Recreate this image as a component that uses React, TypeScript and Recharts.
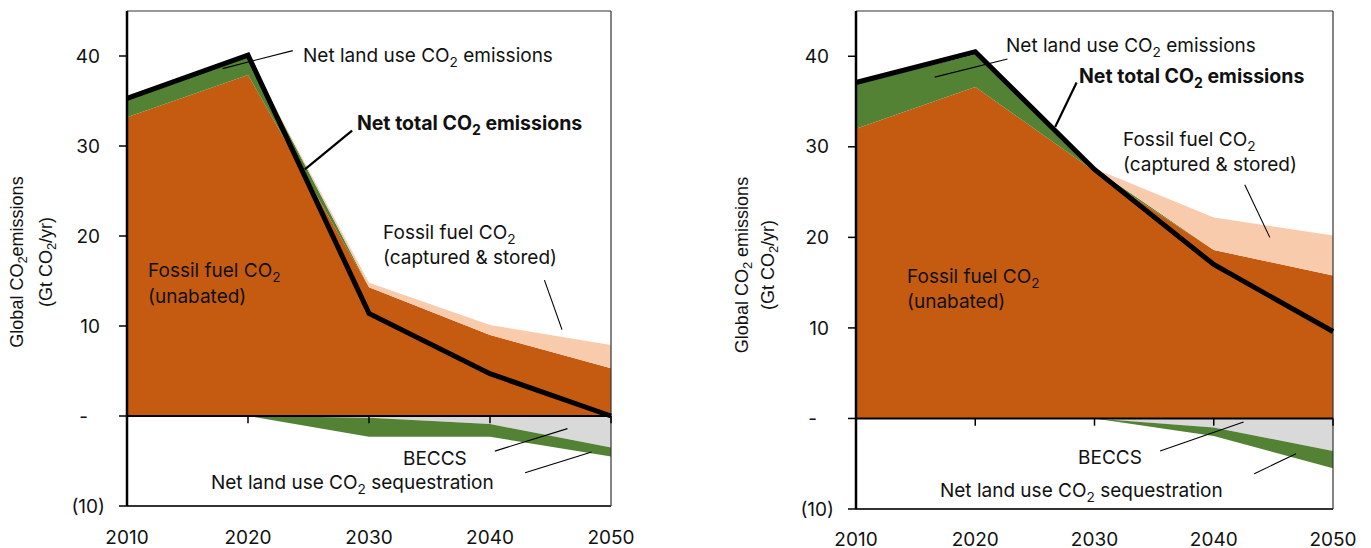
import React from 'react';
import { ComposedChart, Area, Line, XAxis, YAxis, ReferenceLine, ReferenceDot } from 'recharts';

// shared axes
const years = [2010, 2020, 2030, 2040, 2050];
const yTicks = [-10, 0, 10, 20, 30, 40];

// left panel (Gt CO2/yr)
const leftUnabated = [33.2, 37.9, 14.3, 9.0, 5.3];
const leftLandEmit = [2.1, 2.1, 0, 0, 0];
const leftCaptured = [0, 0, 0.5, 1.1, 2.6];
const leftBeccs = [0, 0, -0.2, -0.9, -3.5];
const leftLandSeq = [0, 0, -2.1, -1.4, -1.0];
const leftNet = [35.3, 40.1, 11.4, 4.7, 0];

// right panel (Gt CO2/yr)
const rightUnabated = [32.0, 36.6, 27.3, 18.6, 15.8];
const rightLandEmit = [4.9, 3.6, 0.3, 0, 0];
const rightCaptured = [0, 0, 0, 3.6, 4.4];
const rightBeccs = [0, 0, 0, -1.0, -3.6];
const rightLandSeq = [0, 0, 0, -0.95, -1.9];
const rightNet = [37.1, 40.5, 27.5, 17.0, 9.6];

const ORANGE = '#C55A11';
const GREEN = '#548235';
const PEACH = '#F8CBAD';
const GREY = '#D9D9D9';
const FONT = 'Inter, sans-serif';
const TITLE_FONT = '"Liberation Sans", Arial, sans-serif';

// text with "|" around subscripts, e.g. "CO|2| emissions"
const Rich = ({ text, size }: { text: string; size: number }) => {
  const drop = Math.round(size * 0.25);
  return (
    <>
      {text.split('|').map((part, j) =>
        j % 2 === 1 ? (
          <tspan key={j} dy={drop} fontSize={size * 0.72}>{part}</tspan>
        ) : (
          <tspan key={j} dy={j ? -drop : 0}>{part}</tspan>
        )
      )}
    </>
  );
};

const Note = ({ viewBox, lines, bold, gap = 26, size = 19 }: any) => {
  const { x, y } = viewBox;
  return (
    <g>
      {lines.map((line: string, i: number) => (
        <text key={i} x={x} y={y + i * gap} fontFamily={FONT} fontSize={size}
          fontWeight={bold ? 700 : 400} fill="#111">
          <Rich text={line} size={size} />
        </text>
      ))}
    </g>
  );
};

const YTick = ({ x, y, payload }: any) => {
  const v = payload.value;
  const label = v === 0 ? '-' : v < 0 ? `(${-v})` : String(v);
  const shift = v === 0 ? -12 : v < 0 ? 5 : 0;
  return (
    <text x={x + shift} y={y} dy="0.35em" textAnchor="end" fontFamily={FONT} fontSize={19} fill="#111">
      {label}
    </text>
  );
};

const YTitle = ({ lines, xs, cy }: any) => (
  <g>
    {lines.map((line: string, i: number) => (
      <text key={i} x={xs[i]} y={cy} transform={`rotate(-90 ${xs[i]} ${cy})`} textAnchor="middle"
        dominantBaseline="central" fontFamily={TITLE_FONT} fontSize={18} fill="#111">
        <Rich text={line} size={18} />
      </text>
    ))}
  </g>
);

type NoteSpec = { x: number; y: number; lines: string[]; bold?: boolean; gap?: number; size?: number };
type Leader = { from: [number, number]; to: [number, number]; w?: number };

const leftNotes: NoteSpec[] = [
  { x: 2024.55, y: 39.33, lines: ['Net land use CO|2| emissions'] },
  { x: 2029.0, y: 31.78, lines: ['Net total CO|2| emissions'], bold: true, size: 19.5 },
  { x: 2031.16, y: 19.67, lines: ['Fossil fuel CO|2|', '(captured & stored)'], gap: 25 },
  { x: 2011.74, y: 15.44, lines: ['Fossil fuel CO|2|', '(unabated)'] },
  { x: 2032.81, y: -5.44, lines: ['BECCS'] },
  { x: 2016.94, y: -8.11, lines: ['Net land use CO|2| sequestration'] },
];
const leftLeaders: Leader[] = [
  { from: [2023.7, 40.6], to: [2017.9, 38.6] },
  { from: [2028.6, 31.7], to: [2024.7, 27.4], w: 2.2 },
  { from: [2044.5, 15.1], to: [2045.95, 9.6] },
  { from: [2040.4, -3.9], to: [2046.4, -1.4] },
  { from: [2042.9, -6.3], to: [2048.4, -4.0] },
];

const rightNotes: NoteSpec[] = [
  { x: 2022.58, y: 40.42, lines: ['Net land use CO|2| emissions'] },
  { x: 2028.7, y: 37.0, lines: ['Net total CO|2| emissions'], bold: true, size: 19.5 },
  { x: 2032.39, y: 30.04, lines: ['Fossil fuel CO|2|', '(captured & stored)'], gap: 25 },
  { x: 2014.28, y: 14.91, lines: ['Fossil fuel CO|2|', '(unabated)'], gap: 25 },
  { x: 2028.62, y: -5.08, lines: ['BECCS'] },
  { x: 2017.04, y: -8.72, lines: ['Net land use CO|2| sequestration'] },
];
const rightLeaders: Leader[] = [
  { from: [2022.7, 39.7], to: [2016.6, 37.7] },
  { from: [2028.5, 37.1], to: [2026.7, 32.2], w: 2.2 },
  { from: [2042.6, 25.8], to: [2044.7, 20.0] },
  { from: [2035.5, -3.6], to: [2042.5, -0.4] },
  { from: [2043.4, -6.1], to: [2046.9, -3.9] },
];

const Panel = ({ cfg }: any) => {
  const data = years.map((year, i) => ({
    year,
    unabated: cfg.unabated[i],
    landEmit: cfg.landEmit[i],
    captured: cfg.captured[i],
    beccs: cfg.beccs[i],
    landSeq: cfg.landSeq[i],
    net: cfg.net[i],
  }));
  return (
    <div style={{ position: 'absolute', left: cfg.left, top: 0 }}>
      <ComposedChart width={cfg.width} height={548} data={data}
        margin={{ top: 11, right: cfg.right, bottom: cfg.bottom, left: 0 }}>
        <XAxis type="number" dataKey="year" domain={[2010, 2050]} ticks={years} height={30}
          tickSize={0} tickLine={false} tickMargin={cfg.xTickMargin}
          axisLine={{ stroke: '#333', strokeWidth: 2 }}
          tick={{ fontFamily: FONT, fontSize: 19, fill: '#111' }} />
        <YAxis type="number" domain={[-10, 45]} ticks={yTicks} width={cfg.yw} allowDataOverflow
          tickSize={8} tickMargin={19} axisLine={{ stroke: '#000', strokeWidth: 2.5 }}
          tickLine={{ stroke: '#000', strokeWidth: 1.5 }} tick={<YTick />}
          label={() => <YTitle lines={cfg.title} xs={cfg.titleX} cy={cfg.titleY} />} />
        <ReferenceLine y={45} stroke="#333" strokeWidth={1.2} />
        <ReferenceLine x={2050} stroke="#333" strokeWidth={1.2} />
        <Area type="linear" stackId="pos" dataKey="unabated" fill={ORANGE} fillOpacity={1} stroke="none" isAnimationActive={false} />
        <Area type="linear" stackId="pos" dataKey="landEmit" fill={GREEN} fillOpacity={1} stroke="none" isAnimationActive={false} />
        <Area type="linear" stackId="pos" dataKey="captured" fill={PEACH} fillOpacity={1} stroke="none" isAnimationActive={false} />
        <Area type="linear" stackId="neg" dataKey="beccs" fill={GREY} fillOpacity={1} stroke="none" isAnimationActive={false} />
        <Area type="linear" stackId="neg" dataKey="landSeq" fill={GREEN} fillOpacity={1} stroke="none" isAnimationActive={false} />
        <ReferenceLine y={0} stroke="#000" strokeWidth={2} />
        {years.slice(1).map((yr) => (
          <ReferenceLine key={yr} segment={[{ x: yr, y: 0 }, { x: yr, y: -0.8 }]} stroke="#000" strokeWidth={1.5} />
        ))}
        <Line type="linear" dataKey="net" stroke="#000" strokeWidth={5} strokeLinejoin="miter"
          dot={false} activeDot={false} isAnimationActive={false} />
        {cfg.leaders.map((l: Leader, i: number) => (
          <ReferenceLine key={`l${i}`} segment={[{ x: l.from[0], y: l.from[1] }, { x: l.to[0], y: l.to[1] }]}
            stroke="#000" strokeWidth={l.w ?? 1.1} />
        ))}
        {cfg.notes.map((n: NoteSpec, i: number) => (
          <ReferenceDot key={`n${i}`} x={n.x} y={n.y} r={0} fill="none" stroke="none"
            label={(p: any) => <Note viewBox={p.viewBox} lines={n.lines} bold={n.bold} gap={n.gap} size={n.size} />} />
        ))}
      </ComposedChart>
    </div>
  );
};

const leftCfg = {
  left: 0, width: 640, yw: 127, right: 29, bottom: 12, xTickMargin: 25,
  unabated: leftUnabated, landEmit: leftLandEmit, captured: leftCaptured,
  beccs: leftBeccs, landSeq: leftLandSeq, net: leftNet,
  title: ['Global CO|2|emissions', '(Gt CO|2|/yr)'], titleX: [17, 46], titleY: 262,
  notes: leftNotes, leaders: leftLeaders,
};

const rightCfg = {
  left: 700, width: 671, yw: 156, right: 38, bottom: 9, xTickMargin: 24,
  unabated: rightUnabated, landEmit: rightLandEmit, captured: rightCaptured,
  beccs: rightBeccs, landSeq: rightLandSeq, net: rightNet,
  title: ['Global CO|2| emissions', '(Gt CO|2|/yr)'], titleX: [42, 68], titleY: 265,
  notes: rightNotes, leaders: rightLeaders,
};

export default function App() {
  return (
    <div style={{ position: 'absolute', left: 0, top: 0, width: 1371, height: 548, background: '#fff' }}>
      <Panel cfg={leftCfg} />
      <Panel cfg={rightCfg} />
    </div>
  );
}
